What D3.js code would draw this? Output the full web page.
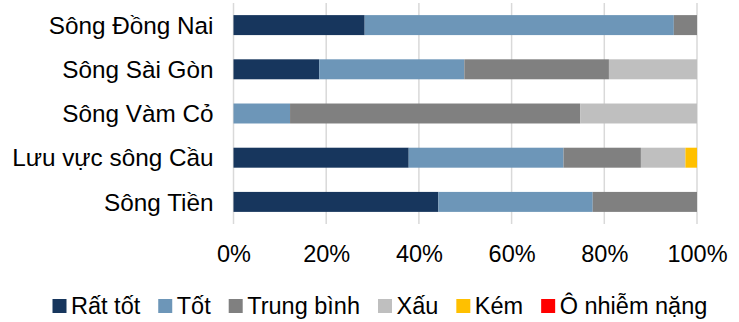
<!DOCTYPE html>
<html>
<head>
<meta charset="utf-8">
<script src="https://cdn.jsdelivr.net/npm/d3@7"></script>
<style>
  html, body { margin: 0; padding: 0; background: #fff; }
  svg { display: block; font-family: "Liberation Sans", Arial, sans-serif; }
</style>
</head>
<body>
<svg id="chart" width="739" height="322"></svg>
<script>
// Rivers, top to bottom
const categories = ["Sông Đồng Nai", "Sông Sài Gòn", "Sông Vàm Cỏ", "Lưu vực sông Cầu", "Sông Tiền"];

// Share of monitoring results in each water-quality class (%)
const seriesNames = ["Rất tốt", "Tốt", "Trung bình", "Xấu", "Kém", "Ô nhiễm nặng"];
const ratTot      = [28.3, 18.5, 0.0, 37.8, 44.2];
const tot         = [66.7, 31.3, 12.2, 33.4, 33.3];
const trungBinh   = [5.0, 31.2, 62.6, 16.7, 22.5];
const xau         = [0.0, 19.0, 25.2, 9.6, 0.0];
const kem         = [0.0, 0.0, 0.0, 2.5, 0.0];
const oNhiemNang  = [0.0, 0.0, 0.0, 0.0, 0.0];

const tickValues = [0, 20, 40, 60, 80, 100];
const colors = ["#17365D", "#6D96B8", "#808080", "#BFBFBF", "#FFC000", "#FF0000"];

const seriesValues = [ratTot, tot, trungBinh, xau, kem, oNhiemNang];
const rows = categories.map((c, i) => {
  const r = { category: c };
  seriesNames.forEach((s, j) => { r[s] = seriesValues[j][i]; });
  return r;
});

const svg = d3.select("#chart");
const margin = { left: 233.5, right: 42, top: 3, bottom: 98 };
const W = 739, H = 322;

const x = d3.scaleLinear().domain([0, 100]).range([margin.left, W - margin.right]);
const y = d3.scaleBand().domain(categories).range([margin.top, H - margin.bottom]).paddingInner(0.548).paddingOuter(0.274);

// vertical gridlines
svg.append("g")
  .selectAll("line")
  .data(tickValues)
  .join("line")
  .attr("x1", d => x(d)).attr("x2", d => x(d))
  .attr("y1", margin.top).attr("y2", H - margin.bottom)
  .attr("stroke", "#D9D9D9")
  .attr("stroke-width", 1.5);

// stacked bars
const stacked = d3.stack().keys(seriesNames)(rows);
svg.append("g")
  .selectAll("g")
  .data(stacked)
  .join("g")
  .attr("fill", (d, i) => colors[i])
  .selectAll("rect")
  .data(d => d.filter(p => p[1] - p[0] > 0))
  .join("rect")
  .attr("x", d => x(d[0]))
  .attr("width", d => x(d[1]) - x(d[0]))
  .attr("y", d => y(d.data.category))
  .attr("height", y.bandwidth());

// x axis labels
const xAxis = d3.axisBottom(x)
  .tickValues(tickValues)
  .tickFormat(d => d + "%")
  .tickSize(0)
  .tickPadding(0);
const gx = svg.append("g")
  .attr("transform", `translate(0,${H - margin.bottom})`)
  .call(xAxis);
gx.select(".domain").remove();
gx.selectAll("text")
  .attr("font-family", "Liberation Sans, Arial, sans-serif")
  .attr("font-size", 23.5)
  .attr("fill", "#000")
  .attr("dy", 0)
  .attr("y", 38);

// category labels
const yAxis = d3.axisLeft(y).tickSize(0).tickPadding(0);
const gy = svg.append("g")
  .attr("transform", `translate(${margin.left - 20},0)`)
  .call(yAxis);
gy.select(".domain").remove();
gy.selectAll("text")
  .attr("font-family", "Liberation Sans, Arial, sans-serif")
  .attr("font-size", 24.3)
  .attr("fill", "#000")
  .attr("dy", "0.36em");

// legend
const legend = svg.append("g").attr("transform", "translate(52.5,0)");
let lx = 0;
seriesNames.forEach((name, i) => {
  const item = legend.append("g").attr("transform", `translate(${lx},0)`);
  item.append("rect")
    .attr("x", 0).attr("y", 299)
    .attr("width", 14).attr("height", 14)
    .attr("fill", colors[i]);
  const t = item.append("text")
    .attr("x", 18.5).attr("y", 314)
    .attr("font-size", 23.5)
    .attr("fill", "#000")
    .text(name);
  lx += 18.5 + t.node().getComputedTextLength() + 18;
});
</script>
</body>
</html>
